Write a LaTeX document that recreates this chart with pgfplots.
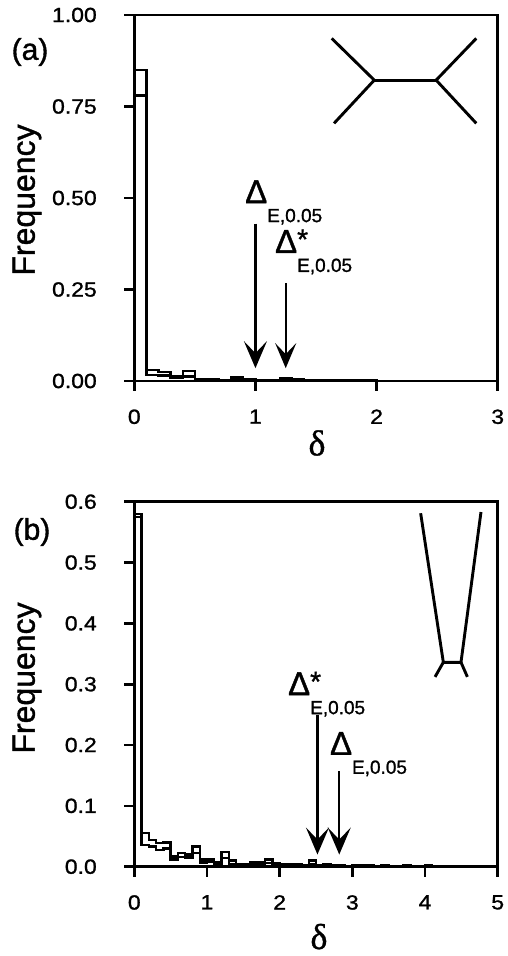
\documentclass[border=0pt]{standalone}
\usepackage{pgfplots}
\pgfplotsset{compat=1.18}
\usetikzlibrary{arrows.meta}
\usepackage{fontspec}
\setmainfont{Liberation Sans}[FakeBold=1.2]
\newfontfamily\tickfont{Liberation Sans}[FakeBold=1.2, FakeStretch=1.12]
\newfontfamily\greekserif{Liberation Serif}[FakeBold=1]
\newcommand{\bigD}{\fontsize{33}{33}\selectfont}
\newcommand{\subf}{\fontsize{19}{19}\selectfont}
\newcommand{\starf}{\fontsize{28}{28}\selectfont}
\newcommand{\DeltaE}{{\bigD Δ}\raisebox{-19pt}{\subf E,0.05}}
\newcommand{\DeltaEs}{{\bigD Δ}\rlap{\raisebox{4pt}{\starf *}}\raisebox{-19pt}{\subf E,0.05}}
\tikzset{
  myarr/.style={line width=2.4pt, -{Stealth[length=27pt,width=23pt,inset=12pt]}},
  treeline/.style={line width=2.9pt},
}
\pgfplotsset{
  common/.style={
    scale only axis,
    width=363.4pt,
    axis line style={line width=2.6pt},
    every tick/.style={line width=2.6pt, black},
    major tick length=10pt,
    tick align=outside,
    xtick pos=bottom, ytick pos=left,
    ticklabel style={font=\tickfont\fontsize{20.5}{20.5}\selectfont},
    /pgf/number format/assume math mode=true,
    yticklabel style={xshift=-24pt},
    xticklabel style={yshift=-15pt},
    clip=false,
  },
  hist/.style={const plot, black, line width=2.3pt, mark=none},
}
\begin{document}
\begin{tikzpicture}
% ---------------- panel (a)
\begin{axis}[common, at={(134.3pt,575pt)}, anchor=south west, height=366pt,
  xmin=0, xmax=3, ymin=0, ymax=1,
  xtick={0,1,2,3}, ytick={0,0.25,0.5,0.75,1},
  yticklabel style={/pgf/number format/.cd, fixed, fixed zerofill, precision=2}]
\addplot[hist] coordinates {
(0,0) (0,0.85) (0.1,0.030) (0.2,0.025) (0.3,0.014) (0.4,0.028) (0.5,0.006)
(0.6,0.004) (0.7,0.003) (0.8,0.010) (0.9,0.004) (1.0,0.003) (1.1,0.003)
(1.2,0.008) (1.3,0.005) (1.4,0.002) (1.5,0.001) (1.6,0.001) (1.7,0.003)
(1.8,0.003) (1.9,0.001) (2.0,0)};
\addplot[hist] coordinates {
(0,0.78) (0.1,0.016) (0.2,0.015) (0.3,0.008) (0.4,0.012) (0.5,0.004)
(0.6,0.003) (0.7,0.002) (0.8,0.005) (0.9,0.002) (1.0,0.002) (1.1,0.002)
(1.2,0.004) (1.3,0.003) (1.4,0.001) (1.5,0.001) (1.6,0) (1.7,0.001)
(1.8,0.001) (1.9,0) (2.0,0)};
% tree inset
\draw[treeline] (axis cs:1.63,0.936) -- (axis cs:1.981,0.822) -- (axis cs:1.649,0.704);
\draw[treeline] (axis cs:1.981,0.822) -- (axis cs:2.492,0.822);
\draw[treeline] (axis cs:2.823,0.936) -- (axis cs:2.492,0.822) -- (axis cs:2.823,0.704);
% arrows
\draw[myarr] (axis cs:1.0,0.43) -- (axis cs:1.0,0.035);
\draw[myarr, -{Stealth[length=25pt,width=21pt,inset=11pt]}] (axis cs:1.25,0.267) -- (axis cs:1.25,0.035);
\node[anchor=base west, inner sep=0pt] at (axis cs:0.914,0.486) {\DeltaE};
\node[anchor=base west, inner sep=0pt] at (axis cs:1.161,0.350) {\DeltaEs};
\end{axis}
% ---------------- panel (b)
\begin{axis}[common, at={(134.3pt,89.3pt)}, anchor=south west, height=365pt,
  xmin=0, xmax=5, ymin=0, ymax=0.6,
  xtick={0,1,2,3,4,5}, ytick={0,0.1,0.2,0.3,0.4,0.5,0.6},
  yticklabel style={/pgf/number format/.cd, fixed, fixed zerofill, precision=1}]
\addplot[hist] coordinates {
(0,0) (0,0.58) (0.1,0.055) (0.2,0.044) (0.3,0.039) (0.4,0.040) (0.5,0.017)
(0.6,0.022) (0.7,0.020) (0.8,0.033) (0.9,0.012) (1.0,0.012) (1.1,0.007)
(1.2,0.024) (1.3,0.010) (1.4,0.005) (1.5,0.004) (1.6,0.008) (1.7,0.008)
(1.8,0.012) (1.9,0.006) (2.0,0.005) (2.1,0.004) (2.2,0.004) (2.3,0.003)
(2.4,0.010) (2.5,0.003) (2.6,0.004) (2.7,0.002) (2.8,0.002) (2.9,0.001)
(3.0,0.002) (3.1,0.002) (3.2,0.003) (3.3,0.001) (3.4,0.002) (3.5,0.001)
(3.6,0.001) (3.7,0.002) (3.8,0.001) (3.9,0.001) (4.0,0.002) (4.1,0)};
\addplot[hist] coordinates {
(0,0.575) (0.1,0.036) (0.2,0.033) (0.3,0.028) (0.4,0.030) (0.5,0.012)
(0.6,0.016) (0.7,0.015) (0.8,0.022) (0.9,0.007) (1.0,0.008) (1.1,0.004)
(1.2,0.014) (1.3,0.005) (1.4,0.003) (1.5,0.002) (1.6,0.004) (1.7,0.005)
(1.8,0.006) (1.9,0.003) (2.0,0.003) (2.1,0.002) (2.2,0.002) (2.3,0.002)
(2.4,0.004) (2.5,0.002) (2.6,0.002) (2.7,0.001) (2.8,0.001) (2.9,0.001)
(3.0,0.001) (3.1,0.001) (3.2,0.001) (3.3,0) (3.4,0) (3.5,0)
(3.6,0) (3.7,0.001) (3.8,0) (3.9,0) (4.0,0.001) (4.1,0)};
% tree inset
\draw[treeline] (axis cs:3.94,0.581) -- (axis cs:4.252,0.336) -- (axis cs:4.495,0.336) -- (axis cs:4.77,0.583);
\draw[treeline] (axis cs:4.138,0.312) -- (axis cs:4.252,0.336);
\draw[treeline] (axis cs:4.583,0.312) -- (axis cs:4.495,0.336);
% arrows
\draw[myarr] (axis cs:2.52,0.25) -- (axis cs:2.52,0.02);
\draw[myarr] (axis cs:2.82,0.157) -- (axis cs:2.82,0.02);
\node[anchor=base west, inner sep=0pt] at (axis cs:2.114,0.282) {\DeltaEs};
\node[anchor=base west, inner sep=0pt] at (axis cs:2.69,0.184) {\DeltaE};
\end{axis}
% ---------------- outer labels
\node[font=\fontsize{30}{30}\selectfont] at (30pt,904pt) {(a)};
\node[font=\fontsize{30}{30}\selectfont] at (32pt,424pt) {(b)};
\node[rotate=90, font=\fontsize{32}{32}\selectfont] at (27pt,756pt) {Frequency};
\node[rotate=90, font=\fontsize{32}{32}\selectfont] at (27pt,278pt) {Frequency};
\node[font=\greekserif\fontsize{36}{36}\selectfont] at (317pt,513pt) {δ};
\node[anchor=base, inner sep=0pt, font=\greekserif\fontsize{36}{36}\selectfont] at (319pt,7pt) {δ};
\pgfresetboundingbox
\useasboundingbox (0,0) rectangle (507pt,956pt);
\end{tikzpicture}
\end{document}
